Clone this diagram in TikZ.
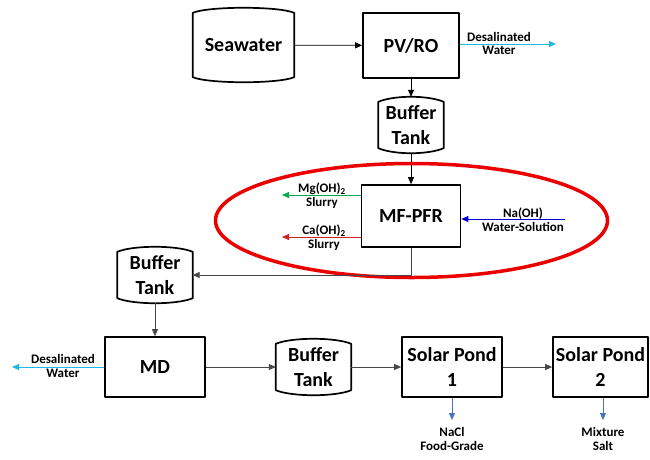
\documentclass[tikz,border=0pt]{standalone}
\usepackage{fontspec}
\setmainfont{Carlito}
\usetikzlibrary{
  arrows.meta,
  positioning,
  calc
}
\definecolor{watercolor}{RGB}{30,185,230}
\definecolor{mgcolor}{RGB}{0,170,80}
\definecolor{cacolor}{RGB}{205,35,35}
\definecolor{nacolor}{RGB}{0,0,210}
\definecolor{saltcolor}{RGB}{68,114,196}
\definecolor{linecolor}{RGB}{70,70,70}
\definecolor{ringcolor}{RGB}{235,0,0}
% tank: straight sides, arched top and bottom
\newcommand{\drawTank}[6]{%
  \node[tank, minimum width=#4pt, minimum height=#5pt] (#1) at (#2,#3) {#6};
  \draw[boxline]
    ([yshift=5pt]#1.south west) -- ([yshift=-5pt]#1.north west)
    .. controls +(16,-6.7) and +(-16,-6.7) .. ([yshift=-5pt]#1.north east)
    -- ([yshift=5pt]#1.south east)
    .. controls +(-16,6.7) and +(16,6.7) .. ([yshift=5pt]#1.south west) -- cycle;
}

\begin{document}
\begin{tikzpicture}[x=1pt, y=-1pt,
  boxline/.style={line width=1.7pt, line join=round},
  unit/.style={draw, boxline, inner sep=0pt, align=center,
    font=\bfseries\fontsize{20}{25}\selectfont},
  tank/.style={inner sep=0pt, align=center,
    font=\bfseries\fontsize{20}{25}\selectfont},
  flow/.style={line width=0.8pt, linecolor, -{Triangle[length=7pt,width=6pt]}},
  side/.style={line width=0.8pt, -{Triangle[length=7pt,width=6pt]}},
  tag/.style={inner sep=0pt, align=center,
    font=\bfseries\fontsize{13}{13.5}\selectfont}
]
  \useasboundingbox (0,0) rectangle (650,459);

  % -- top row --
  \drawTank{sea}{243.5}{45}{101}{74}{Seawater}
  \node[unit, minimum width=96pt, minimum height=65pt] (pvro) at (411,45.5) {PV/RO};
  \draw[flow, black] (sea) -- (pvro);

  \coordinate (dwA) at (556,44);
  \node[tag] (dwAtag) at (499,43.5) {Desalinated\\Water};
  \draw[side, watercolor] (pvro.east |- dwA) -- (dwA);

  \drawTank{btA}{411}{125}{65}{56}{Buffer\\Tank}
  \draw[flow, black] (pvro.south) -- (btA.north);

  % -- precipitation reactor --
  \node[unit, minimum width=99pt, minimum height=62pt] (pfr) at (411,216) {MF-PFR};
  \draw[flow, black] (btA.south) -- (pfr.north);

  \coordinate (mg) at (282,195);
  \coordinate (ca) at (282,237);
  \coordinate (na) at (565,219);
  \node[tag] (mgtag) at (322,195.5) {Mg(OH)\textsubscript{2}\\Slurry};
  \node[tag] (catag) at (324,237.5) {Ca(OH)\textsubscript{2}\\Slurry};
  \node[tag] (natag) at (523,219.5) {Na(OH)\\Water-Solution};
  \draw[side, mgcolor] (pfr.west |- mg) -- (mg);
  \draw[side, cacolor] (pfr.west |- ca) -- (ca);
  \draw[side, nacolor] (na) -- (pfr.east |- na);

  \draw[ringcolor, line width=3.5pt] (411.5,220.5) ellipse [x radius=196pt, y radius=57pt];

  % -- bottom row --
  \drawTank{btB}{155}{275}{75}{56}{Buffer\\Tank}
  \draw[flow] (pfr.south) |- (btB.east);

  \node[unit, minimum width=100pt, minimum height=60pt] (md) at (155,367) {MD};
  \draw[flow] (btB.south) -- (md.north);

  \coordinate (dwB) at (12,367);
  \node[tag] (dwBtag) at (63,366) {Desalinated\\Water};
  \draw[side, watercolor] (md.west) -- (dwB);

  \drawTank{btC}{313.5}{367}{75}{56}{Buffer\\Tank}
  \draw[flow] (md.east) -- (btC.west);

  \node[unit, minimum width=100pt, minimum height=60pt] (spA) at (452,367) {Solar Pond\\1};
  \node[unit, minimum width=95pt, minimum height=60pt] (spB) at (600.5,367) {Solar Pond\\2};
  \draw[flow] (btC.east) -- (spA.west);
  \draw[flow] (spA.east) -- (spB.west);

  % -- salt products --
  \coordinate (nacl) at (452,420);
  \coordinate (mix) at (603,420);
  \draw[side, saltcolor] (spA.south) -- (nacl);
  \draw[side, saltcolor] (spB.south -| mix) -- (mix);
  \node[tag] (nacltag) at (452,439) {NaCl\\Food-Grade};
  \node[tag] (mixtag) at (603,439) {Mixture\\Salt};

\end{tikzpicture}
\end{document}
